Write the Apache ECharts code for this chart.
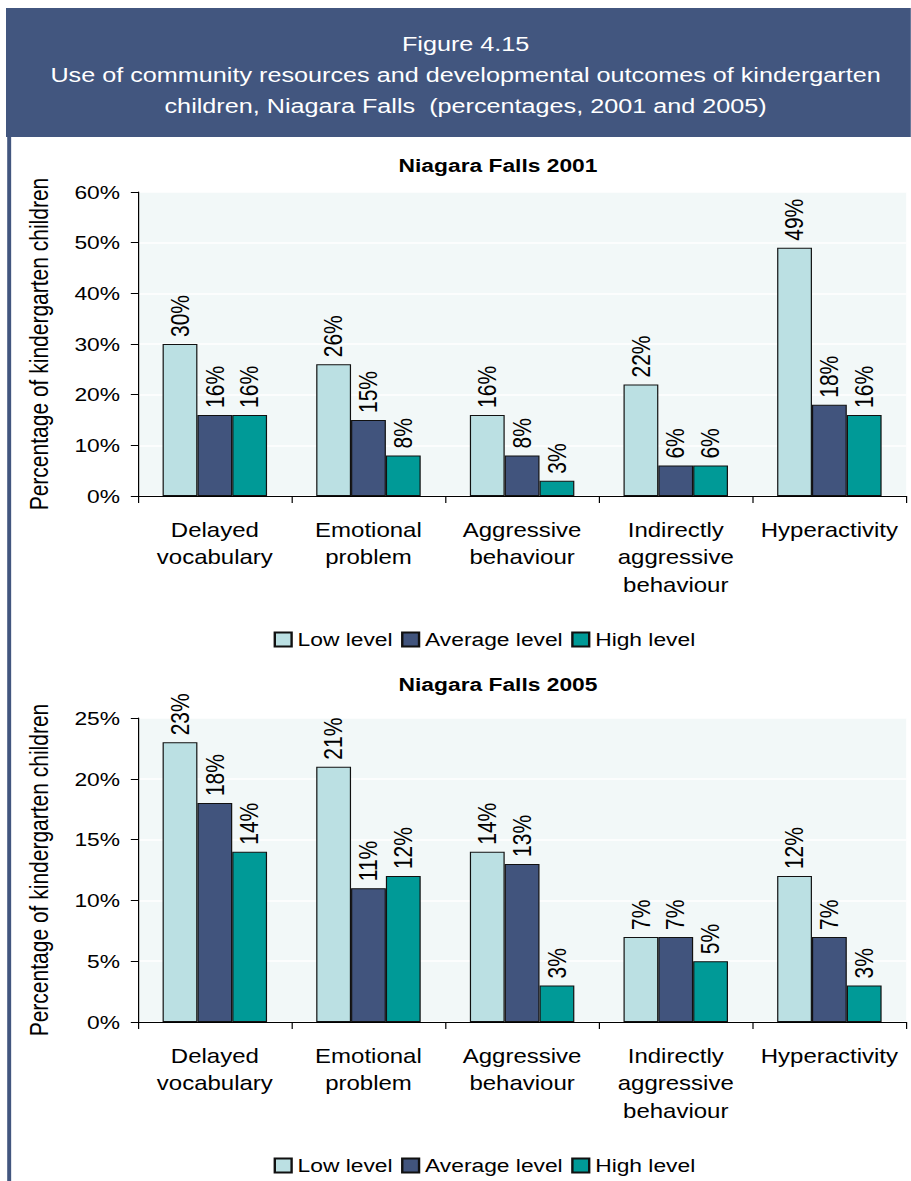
<!DOCTYPE html>
<html>
<head>
<meta charset="utf-8">
<script src="https://cdn.jsdelivr.net/npm/echarts@6/dist/echarts.min.js"></script>
<style>
  html, body { margin: 0; padding: 0; background: #fff; overflow: hidden; }
  /* The figure is laid out on a narrower canvas and widened horizontally,
     giving the stretched typeface of the printed report. */
  #chart { width: 759.17px; height: 1181px; transform: scaleX(1.2); transform-origin: 0 0; }
</style>
</head>
<body>
<div id="chart"></div>
<script>
// Outcome categories (x axis)
const categories = [
  'Delayed\nvocabulary',
  'Emotional\nproblem',
  'Aggressive\nbehaviour',
  'Indirectly\naggressive\nbehaviour',
  'Hyperactivity'
];

// Level of community resource use
const seriesNames = ['Low level', 'Average level', 'High level'];

// Niagara Falls 2001 (% of kindergarten children)
const low2001 = [30, 26, 16, 22, 49];
const avg2001 = [16, 15, 8, 6, 18];
const high2001 = [16, 8, 3, 6, 16];

// Niagara Falls 2005 (% of kindergarten children)
const low2005 = [23, 21, 14, 7, 12];
const avg2005 = [18, 11, 13, 7, 7];
const high2005 = [14, 12, 3, 5, 3];

// Axis scales
const yMax2001 = 60, yStep2001 = 10;
const yMax2005 = 25, yStep2005 = 5;

const colors = ['#bbe0e3', '#41547d', '#009a97'];
const FONT = '"Liberation Sans", Arial, sans-serif';
const W = 911 / 1.2;

const chart = echarts.init(document.getElementById('chart'), null, { renderer: 'svg', width: W, height: 1181 });

function xAxis(gridIndex) {
  return {
    type: 'category',
    gridIndex,
    data: categories,
    axisLine: { lineStyle: { color: '#000', width: 1 } },
    axisTick: { show: true, length: 7, lineStyle: { color: '#000' } },
    axisLabel: { color: '#000', fontFamily: FONT, fontSize: 20, lineHeight: 27.5, margin: 20, interval: 0 },
    splitLine: { show: false }
  };
}

function yAxis(gridIndex, max, step) {
  return {
    type: 'value',
    gridIndex,
    min: 0,
    max,
    interval: step,
    name: 'Percentage of kindergarten children',
    nameLocation: 'middle',
    nameGap: 72,
    nameTextStyle: { color: '#000', fontFamily: FONT, fontSize: 21 },
    axisLine: { show: true, lineStyle: { color: '#000', width: 1 } },
    axisTick: { show: true, length: 6, lineStyle: { color: '#000' } },
    axisLabel: { color: '#000', fontFamily: FONT, fontSize: 19, margin: 15, formatter: '{value}%' },
    splitLine: { show: true, lineStyle: { color: '#ffffff', width: 1.5 } }
  };
}

function barSeries(name, data, idx, axisIdx) {
  return {
    name,
    type: 'bar',
    xAxisIndex: axisIdx,
    yAxisIndex: axisIdx,
    data,
    barGap: '0%',
    barCategoryGap: '32%',
    itemStyle: { color: colors[idx], borderColor: '#111', borderWidth: 1 },
    label: {
      show: true,
      position: 'top',
      rotate: 90,
      align: 'left',
      verticalAlign: 'middle',
      distance: 7,
      color: '#000',
      fontFamily: FONT,
      fontSize: 21,
      formatter: '{c}%'
    },
    emphasis: { disabled: true },
    animation: false
  };
}

function legend(top) {
  return {
    data: seriesNames,
    left: 223,
    top,
    itemWidth: 14,
    itemHeight: 14,
    itemGap: 7,
    icon: 'rect',
    textStyle: { color: '#000', fontFamily: FONT, fontSize: 19 },
    selectedMode: false
  };
}

const option = {
  backgroundColor: '#ffffff',
  animation: false,
  title: [
    { text: 'Niagara Falls 2001', left: 410, textAlign: 'center', top: 151,
      textStyle: { color: '#000', fontFamily: FONT, fontSize: 19, fontWeight: 'bold' } },
    { text: 'Niagara Falls 2005', left: 410, textAlign: 'center', top: 670,
      textStyle: { color: '#000', fontFamily: FONT, fontSize: 19, fontWeight: 'bold' } }
  ],
  legend: [legend(625), legend(1151)],
  grid: [
    { left: 115, right: 4, top: 192, height: 304, show: true, backgroundColor: '#f2f8f8', borderWidth: 0 },
    { left: 115, right: 4, top: 718, height: 304, show: true, backgroundColor: '#f2f8f8', borderWidth: 0 }
  ],
  xAxis: [xAxis(0), xAxis(1)],
  yAxis: [yAxis(0, yMax2001, yStep2001), yAxis(1, yMax2005, yStep2005)],
  series: [
    barSeries(seriesNames[0], low2001, 0, 0),
    barSeries(seriesNames[1], avg2001, 1, 0),
    barSeries(seriesNames[2], high2001, 2, 0),
    barSeries(seriesNames[0], low2005, 0, 1),
    barSeries(seriesNames[1], avg2005, 1, 1),
    barSeries(seriesNames[2], high2005, 2, 1)
  ],
  graphic: [
    // Header band and left rule
    { type: 'rect', left: 5, top: 8, shape: { width: W - 5, height: 129 }, style: { fill: '#42567f' }, silent: true },
    { type: 'rect', left: 6, top: 137, shape: { width: 3.3, height: 1181 - 137 }, style: { fill: '#42567f' }, silent: true },
    {
      type: 'text',
      x: 388,
      y: 28,
      silent: true,
      style: {
        text: 'Figure 4.15\nUse of community resources and developmental outcomes of kindergarten\nchildren, Niagara Falls  (percentages, 2001 and 2005)',
        fill: '#ffffff',
        font: '21px ' + FONT,
        lineHeight: 31,
        align: 'center',
        verticalAlign: 'top'
      }
    }
  ]
};

chart.setOption(option);
</script>
</body>
</html>
